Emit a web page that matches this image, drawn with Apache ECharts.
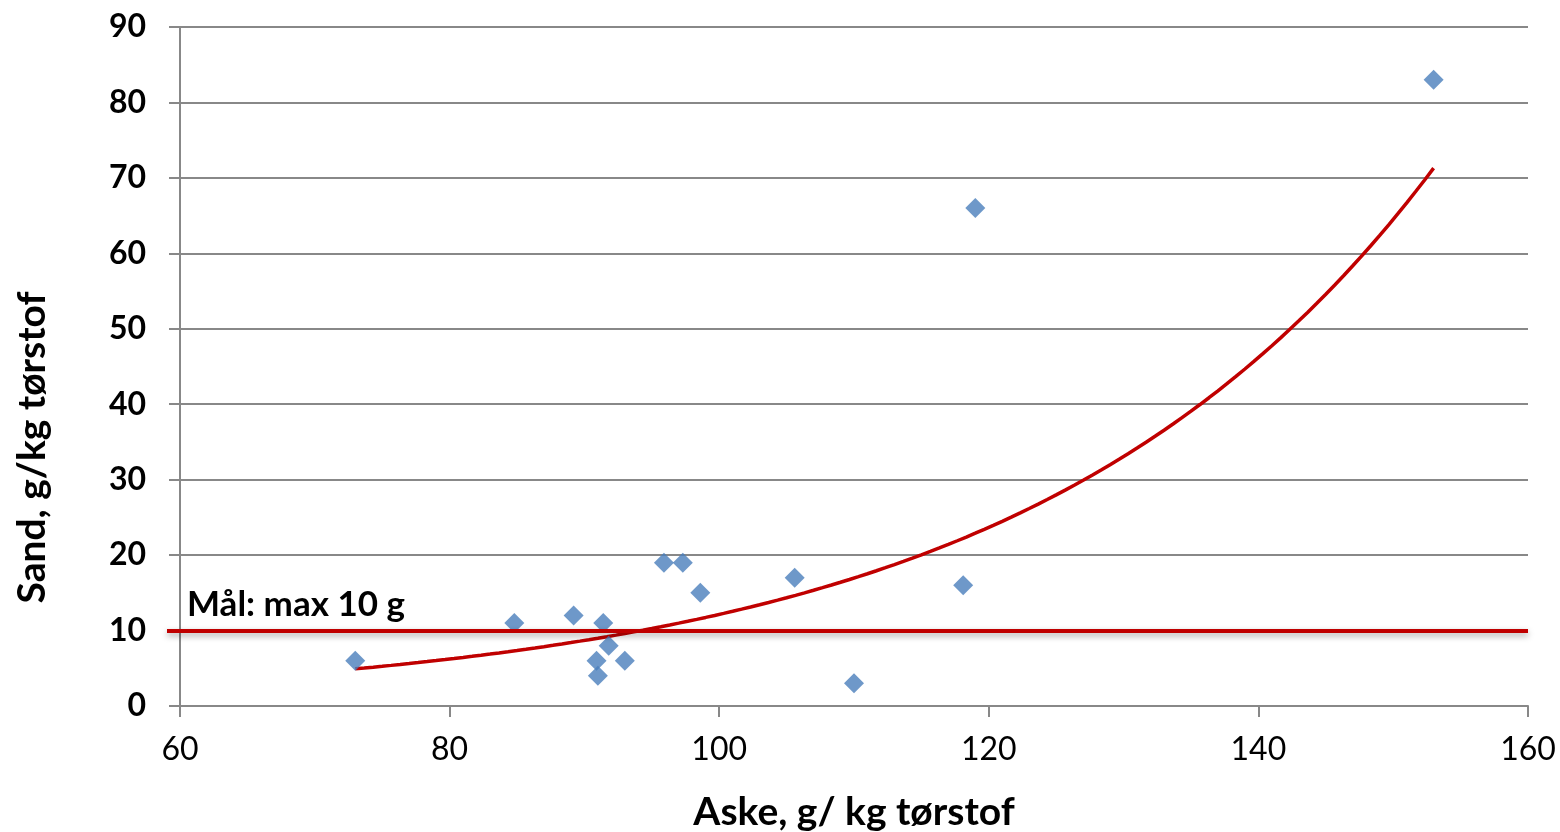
<!DOCTYPE html>
<html>
<head>
<meta charset="utf-8">
<script src="https://cdn.jsdelivr.net/npm/echarts@6/dist/echarts.min.js"></script>
<style>
html,body{margin:0;padding:0;background:#fff;}
#chart{width:1560px;height:832px;}
</style>
</head>
<body>
<div id="chart"></div>
<script>
// Data
const askeValues = [73, 84.8, 89.2, 90.9, 91.0, 91.4, 91.8, 93.0, 95.9, 97.3, 98.6, 105.6, 110.0, 118.1, 119.0, 153.0];
const sandValues = [6, 11, 12, 6, 4, 11, 8, 6, 19, 19, 15, 17, 3, 16, 66, 83];
const targetValue = [10];
const targetLabel = 'Mål: max 10 g';
const xTicks = [60, 80, 100, 120, 140, 160];
const yTicks = [0, 10, 20, 30, 40, 50, 60, 70, 80, 90];
const xName = 'Aske, g/ kg tørstof';
const yName = 'Sand, g/kg tørstof';

// Exponential trendline (least squares on ln y), as a spreadsheet would fit it
function expFit(xs, ys) {
  const n = xs.length;
  const ly = ys.map(v => Math.log(v));
  const mx = xs.reduce((a, b) => a + b, 0) / n;
  const my = ly.reduce((a, b) => a + b, 0) / n;
  let sxy = 0, sxx = 0;
  for (let i = 0; i < n; i++) { sxy += (xs[i] - mx) * (ly[i] - my); sxx += (xs[i] - mx) * (xs[i] - mx); }
  const b = sxy / sxx;
  const a = Math.exp(my - b * mx);
  return { a, b };
}
const fit = expFit(askeValues, sandValues);
const xMin = Math.min(...askeValues), xMax = Math.max(...askeValues);
const trend = [];
for (let i = 0; i <= 120; i++) {
  const x = xMin + (xMax - xMin) * i / 120;
  trend.push([x, fit.a * Math.exp(fit.b * x)]);
}
const scatterData = askeValues.map((x, i) => [x, sandValues[i]]);

const FONT = 'Lato';
const chart = echarts.init(document.getElementById('chart'));
chart.setOption({
  animation: false,
  backgroundColor: '#ffffff',
  grid: [
    { left: 180, right: 32, top: 27, bottom: 126, containLabel: false, outerBoundsMode: 'none' },
    { left: 167, right: 32, top: 27, bottom: 126, containLabel: false, outerBoundsMode: 'none' }
  ],
  xAxis: [{
    type: 'value', gridIndex: 0,
    min: xTicks[0], max: xTicks[xTicks.length - 1], interval: 20,
    name: xName, nameLocation: 'middle', nameGap: 87,
    nameTextStyle: { fontFamily: FONT, fontWeight: 'bold', fontSize: 39, color: '#000' },
    axisLine: { show: true, lineStyle: { color: '#888888', width: 2 } },
    axisTick: { show: true, length: 11, inside: false, lineStyle: { color: '#888888', width: 2 } },
    axisLabel: { fontFamily: FONT, fontSize: 32, color: '#000', margin: 28 },
    splitLine: { show: false }
  }, {
    type: 'value', gridIndex: 1, min: 0, max: 1, show: false
  }],
  yAxis: [{
    type: 'value', gridIndex: 0,
    min: yTicks[0], max: yTicks[yTicks.length - 1], interval: 10,
    name: yName, nameLocation: 'middle', nameGap: 128, nameRotate: 90,
    nameTextStyle: { fontFamily: FONT, fontWeight: 'bold', fontSize: 39, color: '#000', padding: [0, 162, 0, 0] },
    axisLine: { show: true, lineStyle: { color: '#888888', width: 2 } },
    axisTick: { show: true, length: 11, inside: false, lineStyle: { color: '#888888', width: 2 } },
    axisLabel: { fontFamily: FONT, fontWeight: 'bold', fontSize: 32, color: '#000', margin: 34 },
    splitLine: { show: true, lineStyle: { color: '#888888', width: 2 } }
  }, {
    type: 'value', gridIndex: 1, min: yTicks[0], max: yTicks[yTicks.length - 1], show: false
  }],
  series: [{
    type: 'line', xAxisIndex: 0, yAxisIndex: 0,
    data: trend, showSymbol: false, symbol: 'none', smooth: false,
    lineStyle: { color: '#C00000', width: 3.5 }, z: 2
  }, {
    type: 'scatter', xAxisIndex: 0, yAxisIndex: 0,
    data: scatterData, symbol: 'diamond', symbolSize: [20, 20],
    itemStyle: { color: '#4A7EBB' }, z: 3
  }, {
    type: 'line', xAxisIndex: 1, yAxisIndex: 1,
    data: [], z: 4,
    markLine: {
      silent: true, symbol: ['none', 'none'],
      lineStyle: { type: 'solid', color: '#C00000', width: 4, shadowColor: 'rgba(0,0,0,0.35)', shadowBlur: 6, shadowOffsetY: 3 },
      label: {
        show: true, position: 'insideStartTop', formatter: targetLabel,
        fontFamily: FONT, fontWeight: 'bold', fontSize: 35, color: '#000',
        distance: [20, 8]
      },
      data: targetValue.map(v => ({ yAxis: v }))
    }
  }]
});
</script>
</body>
</html>
